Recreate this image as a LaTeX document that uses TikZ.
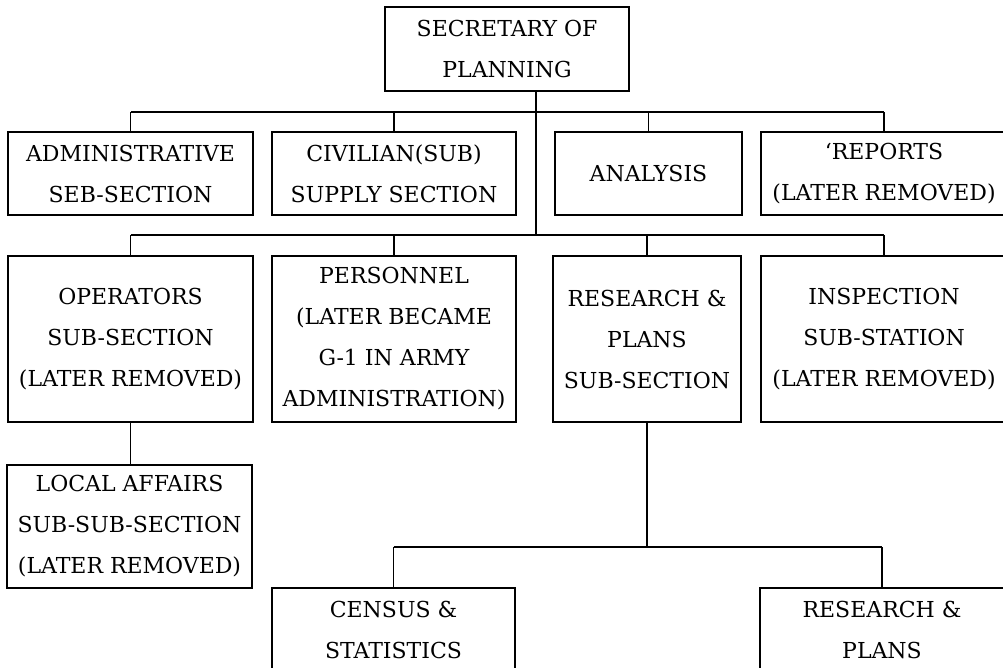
\documentclass[tikz,border=0pt]{standalone}
\usepackage{fontspec}
\setmainfont{DejaVu Serif}
\begin{document}
\begin{tikzpicture}[x=1pt,y=-1pt,
  box/.style={draw, line width=1.3pt, inner sep=0pt, align=center,
    font=\fontsize{22}{41}\selectfont},
  conn/.style={line width=1.1pt}]
\useasboundingbox (0,0) rectangle (1003,667);
\clip (0,0) rectangle (1003,667);
% top
\node[box, minimum width=244pt, minimum height=84pt] (top) at (507,49) {SECRETARY OF\\PLANNING};
% row 1
\node[box, minimum width=245pt, minimum height=83pt] (adm) at (130.5,173.5) {ADMINISTRATIVE\\SEB-SECTION};
\node[box, minimum width=244pt, minimum height=83pt] (civ) at (394,173.5) {CIVILIAN(SUB)\\SUPPLY SECTION};
\node[box, minimum width=187pt, minimum height=83pt] (ana) at (648.5,173.5) {ANALYSIS};
\node[box, minimum width=246pt, minimum height=83pt] (rep) at (884,173.5) {‘REPORTS\\(LATER REMOVED)};
% row 2
\node[box, minimum width=245pt, minimum height=166pt] (ops) at (130.5,339) {OPERATORS\\SUB-SECTION\\(LATER REMOVED)};
\node[box, minimum width=244pt, minimum height=166pt] (per) at (394,339) {PERSONNEL\\(LATER BECAME\\G-1 IN ARMY\\ADMINISTRATION)};
\node[box, minimum width=188pt, minimum height=166pt] (res) at (647,339) {RESEARCH \&\\PLANS\\SUB-SECTION};
\node[box, minimum width=246pt, minimum height=166pt] (ins) at (884,339) {INSPECTION\\SUB-STATION\\(LATER REMOVED)};
% row 3
\node[box, minimum width=245pt, minimum height=123pt] (loc) at (129.5,526.5) {LOCAL AFFAIRS\\SUB-SUB-SECTION\\(LATER REMOVED)};
% row 4
\node[box, minimum width=243pt, minimum height=84pt] (cen) at (393.5,630) {CENSUS \&\\STATISTICS};
\node[box, minimum width=244pt, minimum height=84pt] (rp) at (882,630) {RESEARCH \&\\PLANS};
% bus coordinates
\coordinate (bus1) at (536,112);
\coordinate (bus2) at (536,235);
\coordinate (bus3) at (647,547);
% trunk
\draw[conn] ([xshift=29pt]top.south) -- (bus2);
\draw[conn] (adm.north |- bus1) -- (rep.north |- bus1);
\foreach \n in {adm,civ,ana,rep} \draw[conn] (\n.north) -- (\n.north |- bus1);
\draw[conn] (ops.north |- bus2) -- (ins.north |- bus2);
\foreach \n in {ops,per,res,ins} \draw[conn] (\n.north) -- (\n.north |- bus2);
\draw[conn] (ops.south) -- (ops.south |- loc.north);
\draw[conn] (res.south) -- (bus3);
\draw[conn] (cen.north |- bus3) -- (rp.north |- bus3);
\foreach \n in {cen,rp} \draw[conn] (\n.north) -- (\n.north |- bus3);
\end{tikzpicture}
\end{document}
